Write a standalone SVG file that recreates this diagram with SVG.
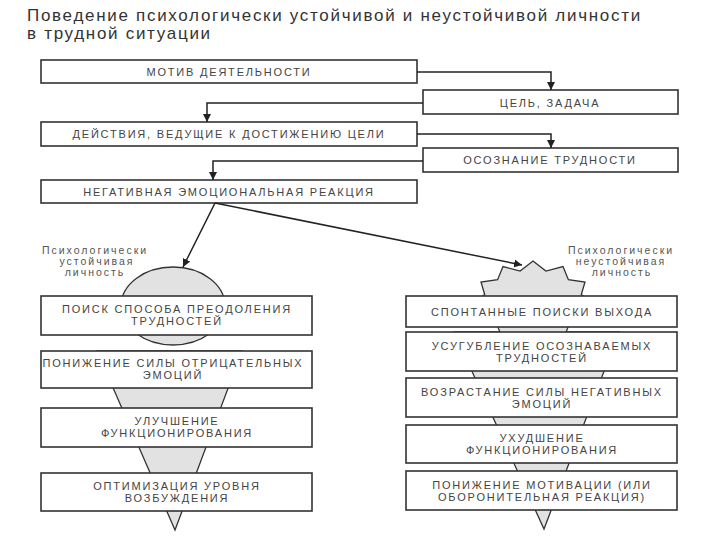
<svg xmlns="http://www.w3.org/2000/svg" width="720" height="540" viewBox="0 0 720 540">
<defs>
<marker id="ah" markerUnits="userSpaceOnUse" markerWidth="8" markerHeight="8" refX="8" refY="4" orient="auto">
<path d="M0,0 L8,4 L0,8 z" fill="#222"/>
</marker>
<style>
.box{fill:#fff;stroke:#333;stroke-width:1.6}
.shape{fill:#e2e2e2;stroke:#333;stroke-width:1.3}
.bt{font-family:"Liberation Sans",Arial,sans-serif;font-size:11px;letter-spacing:1.8px;fill:#444;text-anchor:middle}
.lb{font-family:"Liberation Sans",Arial,sans-serif;font-size:10.5px;letter-spacing:2px;fill:#555;text-anchor:middle}
.title{font-family:"Liberation Sans",Arial,sans-serif;font-size:17px;letter-spacing:1.7px;fill:#333}
.con{fill:none;stroke:#222;stroke-width:1.5}
</style>
</defs>
<rect width="720" height="540" fill="#fff"/>

<g id="title">
<text class="title" x="27" y="21">Поведение психологически устойчивой и неустойчивой личности</text>
<text class="title" x="27" y="39">в трудной ситуации</text>
</g>

<g id="shapes">
<polygon class="shape" points="97,351 242,351 175,530"/>
<ellipse class="shape" cx="173" cy="306" rx="52" ry="39"/>
<polygon class="shape" points="454,332 619,332 544,529"/>
<polygon class="shape" points="533,261 545.9,271.1 563,266.6 568.4,279.7 585,282 581.3,294.5 593,303 581.3,311.5 585,324 568.4,326.3 563,339.4 545.9,334.9 533,345 520.1,334.9 503,339.4 497.6,326.3 481,324 484.7,311.5 473,303 484.7,294.5 481,282 497.6,279.7 503,266.6 520.1,271.1"/>
</g>

<g id="n1"><rect class="box" x="41" y="60" width="376" height="23"/><text class="bt" x="229" y="75.5">МОТИВ ДЕЯТЕЛЬНОСТИ</text></g>
<g id="n2"><rect class="box" x="423" y="90" width="255" height="24"/><text class="bt" x="550" y="106.5">ЦЕЛЬ, ЗАДАЧА</text></g>
<g id="n3"><rect class="box" x="41" y="122" width="376" height="24"/><text class="bt" x="229" y="138">ДЕЙСТВИЯ, ВЕДУЩИЕ К ДОСТИЖЕНИЮ ЦЕЛИ</text></g>
<g id="n4"><rect class="box" x="423" y="148" width="255" height="24"/><text class="bt" x="550" y="164">ОСОЗНАНИЕ ТРУДНОСТИ</text></g>
<g id="n5"><rect class="box" x="41" y="180" width="376" height="23"/><text class="bt" x="229" y="195.5">НЕГАТИВНАЯ ЭМОЦИОНАЛЬНАЯ РЕАКЦИЯ</text></g>

<g id="l1"><rect class="box" x="41" y="296" width="271" height="39"/><text class="bt" x="177" y="313">ПОИСК СПОСОБА ПРЕОДОЛЕНИЯ</text><text class="bt" x="177" y="325">ТРУДНОСТЕЙ</text></g>
<g id="l2"><rect class="box" x="41" y="351" width="271" height="37"/><text class="bt" x="173" y="367">ПОНИЖЕНИЕ СИЛЫ ОТРИЦАТЕЛЬНЫХ</text><text class="bt" x="173" y="379">ЭМОЦИЙ</text></g>
<g id="l3"><rect class="box" x="41" y="408" width="271" height="39"/><text class="bt" x="177" y="425">УЛУЧШЕНИЕ</text><text class="bt" x="177" y="437">ФУНКЦИОНИРОВАНИЯ</text></g>
<g id="l4"><rect class="box" x="41" y="473" width="271" height="38"/><text class="bt" x="177" y="490">ОПТИМИЗАЦИЯ УРОВНЯ</text><text class="bt" x="177" y="502">ВОЗБУЖДЕНИЯ</text></g>

<g id="r1"><rect class="box" x="406" y="296" width="271" height="31"/><text class="bt" x="542" y="315.5">СПОНТАННЫЕ ПОИСКИ ВЫХОДА</text></g>
<g id="r2"><rect class="box" x="406" y="332" width="271" height="39"/><text class="bt" x="542" y="349.5">УСУГУБЛЕНИЕ ОСОЗНАВАЕМЫХ</text><text class="bt" x="542" y="361.5">ТРУДНОСТЕЙ</text></g>
<g id="r3"><rect class="box" x="406" y="378" width="271" height="39"/><text class="bt" x="542" y="395.5">ВОЗРАСТАНИЕ СИЛЫ НЕГАТИВНЫХ</text><text class="bt" x="542" y="407.5">ЭМОЦИЙ</text></g>
<g id="r4"><rect class="box" x="406" y="425" width="271" height="38"/><text class="bt" x="542" y="442">УХУДШЕНИЕ</text><text class="bt" x="542" y="454">ФУНКЦИОНИРОВАНИЯ</text></g>
<g id="r5"><rect class="box" x="406" y="471" width="271" height="39"/><text class="bt" x="542" y="488.5">ПОНИЖЕНИЕ МОТИВАЦИИ (ИЛИ</text><text class="bt" x="542" y="500.5">ОБОРОНИТЕЛЬНАЯ РЕАКЦИЯ)</text></g>

<g id="connectors">
<path class="con" d="M417,72 H551 V90" marker-end="url(#ah)"/>
<path class="con" d="M423,103 H207 V122" marker-end="url(#ah)"/>
<path class="con" d="M417,134 H551 V148" marker-end="url(#ah)"/>
<path class="con" d="M423,161 H213 V180" marker-end="url(#ah)"/>
<path class="con" d="M215,203 L183,267" marker-end="url(#ah)"/>
<path class="con" d="M215,203 L522,265" marker-end="url(#ah)"/>
</g>

<g id="labels">
<text class="lb" x="95" y="254">Психологически</text>
<text class="lb" x="97" y="265">устойчивая</text>
<text class="lb" x="95" y="276">личность</text>
<text class="lb" x="621" y="254">Психологически</text>
<text class="lb" x="621" y="265">неустойчивая</text>
<text class="lb" x="622" y="276">личность</text>
</g>
</svg>
